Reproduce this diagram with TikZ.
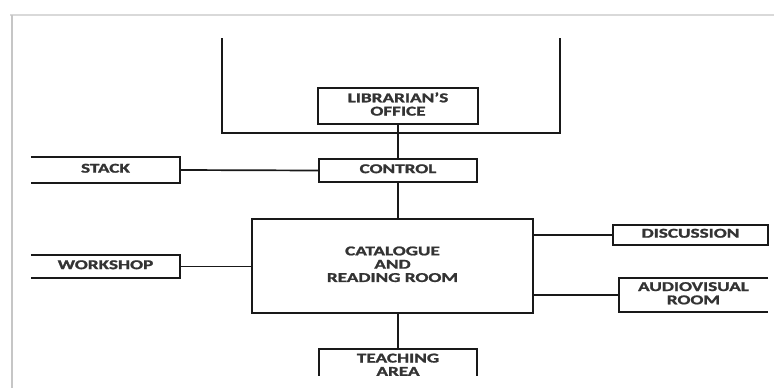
\documentclass[tikz,border=0pt]{standalone}
\usepackage{fontspec}
\setmainfont{Carlito}[BoldFeatures={FakeBold=1.2}]
\usepackage{graphicx}
\usetikzlibrary{calc}
\newcommand{\wtxt}[1]{\scalebox{1.42}[1]{\begin{tabular}{@{}c@{}}#1\end{tabular}}}
\begin{document}
\begin{tikzpicture}[x=1pt,y=-1pt,
  lbl/.style={inner sep=0pt, text=black!80, font=\bfseries\fontsize{13.5}{13.3}\selectfont},
  boxd/.style={lbl, draw=black!90, line width=2.2pt},
  edge/.style={draw=black!90, line width=2.2pt, line join=miter},
  conn/.style={draw=black!90, line width=1.7pt},
  vlink/.style={draw=black!90, line width=2.5pt}]
\useasboundingbox (0,0) rectangle (774,388);
\fill[white] (0,0) rectangle (774,388);
% page border
\draw[gray!30, line width=1.6pt] (10,15) -- (774,15);
\draw[gray!45, line width=1.6pt] (12,15) -- (12,388);
\begin{scope}
\clip (13,16) rectangle (774,375);
% U shape
\coordinate (ul) at (222,38);
\coordinate (ubl) at (222,133);
\coordinate (ubr) at (560,133);
\coordinate (ur) at (560,38);
\draw[edge] (ul) -- (ubl) -- (ubr) -- (ur);
% nodes
\node[boxd, minimum width=160pt, minimum height=36pt] (lib) at (398,106) {\wtxt{LIBRARIAN'S\\OFFICE}};
\node[boxd, minimum width=158pt, minimum height=23pt] (control) at (398,170.5) {\wtxt{CONTROL}};
\node[boxd, minimum width=281pt, minimum height=94pt] (main) at (392.5,266) {\wtxt{CATALOGUE\\AND\\READING ROOM}};
\node[lbl, minimum width=149pt, minimum height=26pt] (stack) at (105.5,170) {\wtxt{STACK}};
\node[lbl, minimum width=149pt, minimum height=23pt] (workshop) at (105.5,266.5) {\wtxt{WORKSHOP}};
\node[boxd, minimum width=155pt, minimum height=20pt] (disc) at (690.5,235) {\wtxt{DISCUSSION}};
\node[lbl, minimum width=149pt, minimum height=34pt] (av) at (693.5,295) {\wtxt{AUDIOVISUAL\\ROOM}};
\node[lbl, minimum width=158pt] (teach) at (398,366.5) {\wtxt{TEACHING\\AREA}};
\coordinate (tnw) at (319,349);
\coordinate (tne) at (477,349);
% open boxes
\draw[edge] (stack.north west) -- (stack.north east) -- (stack.south east) -- (stack.south west);
\draw[edge] (workshop.north west) -- (workshop.north east) -- (workshop.south east) -- (workshop.south west);
\draw[edge] (av.north east) -- (av.north west) -- (av.south west) -- (av.south east);
\draw[edge] ($(tnw)+(0,40)$) -- (tnw) -- (tne) -- ($(tne)+(0,40)$);
% connectors
\draw[vlink] (lib.south) -- (control.north);
\draw[vlink] (control.south) -- (main.north -| control.south);
\draw[vlink] (main.south -| control.south) -- (control.south |- tnw);
\draw[conn] (stack.east) -- (control.west);
\draw[conn] (workshop.east) -- (workshop.east -| main.west);
\draw[conn] (main.east |- disc.west) -- (disc.west);
\draw[conn] (main.east |- av.west) -- (av.west);
\end{scope}
\end{tikzpicture}
\end{document}
